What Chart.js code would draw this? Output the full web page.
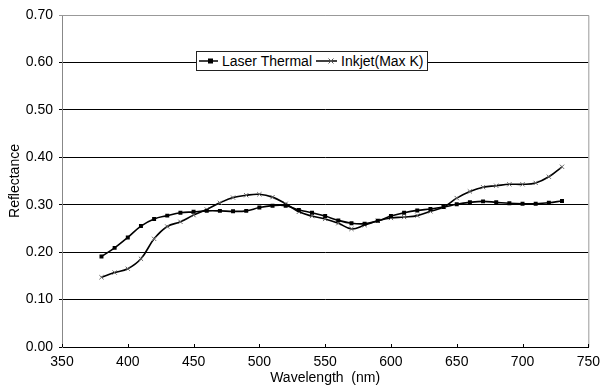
<!DOCTYPE html>
<html>
<head>
<meta charset="utf-8">
<script src="https://cdn.jsdelivr.net/npm/chart.js@4/dist/chart.umd.min.js"></script>
<style>
  html, body { margin:0; padding:0; background:#fff; }
  #wrap { position:relative; width:607px; height:389px; }
  #legend { position:absolute; left:196px; top:51px; width:230px; height:18px; border:1px solid #222; background:#fff;
    font-family:"Liberation Sans", Arial, sans-serif; font-size:14px; color:#000; display:flex; align-items:center; white-space:nowrap; }
  #legend svg { display:block; flex:none; }
  #legend span { line-height:18px; }
</style>
</head>
<body>
<div id="wrap">
  <canvas id="c" width="607" height="389"></canvas>
  <div id="legend">
    <svg width="20" height="18" style="margin-left:2px"><line x1="0" y1="9" x2="19" y2="9" stroke="#000" stroke-width="1.5"/><rect x="9" y="6.5" width="5" height="5" fill="#000"/></svg>
    <span style="margin-left:3px">Laser Thermal</span>
    <svg width="22" height="18" style="margin-left:4px"><line x1="0" y1="9" x2="21" y2="9" stroke="#000" stroke-width="1.5"/><line x1="12.5" y1="6.5" x2="17.5" y2="11.5" stroke="#555" stroke-width="1"/><line x1="12.5" y1="11.5" x2="17.5" y2="6.5" stroke="#555" stroke-width="1"/></svg>
    <span style="margin-left:3px">Inkjet(Max K)</span>
  </div>
</div>
<script>
const wavelengths = [380,390,400,410,420,430,440,450,460,470,480,490,500,510,520,530,540,550,560,570,580,590,600,610,620,630,640,650,660,670,680,690,700,710,720,730];
const laserThermal = [0.191,0.209,0.231,0.255,0.270,0.277,0.283,0.285,0.287,0.287,0.286,0.287,0.294,0.298,0.298,0.289,0.283,0.276,0.267,0.261,0.260,0.266,0.276,0.283,0.288,0.291,0.295,0.301,0.305,0.307,0.305,0.303,0.302,0.302,0.304,0.308];
const inkjetMaxK = [0.147,0.157,0.165,0.186,0.228,0.254,0.264,0.278,0.290,0.304,0.315,0.320,0.322,0.316,0.302,0.285,0.276,0.270,0.261,0.249,0.257,0.266,0.272,0.274,0.277,0.286,0.295,0.314,0.328,0.337,0.340,0.343,0.343,0.346,0.359,0.380];
const xTicks = [350,400,450,500,550,600,650,700,750];
const yTicks = [0,0.1,0.2,0.3,0.4,0.5,0.6,0.7];
const seriesNames = ['Laser Thermal','Inkjet(Max K)'];

const font = { family: '"Liberation Sans", Arial, sans-serif', size: 14 };
const toXY = (arr) => arr.map((v,i) => ({x: wavelengths[i], y: v}));

const framePlugin = {
  id: 'frame',
  afterDraw(chart) {
    const {ctx, chartArea:a} = chart;
    const xs = chart.scales.x;
    ctx.save();
    ctx.strokeStyle = '#999';
    ctx.lineWidth = 1;
    ctx.beginPath();
    ctx.moveTo(a.left, a.top + 0.5);
    ctx.lineTo(a.right + 0.5, a.top + 0.5);
    ctx.lineTo(a.right + 0.5, a.bottom);
    ctx.stroke();
    // inward tick marks on the x axis
    ctx.strokeStyle = '#000';
    ctx.beginPath();
    xTicks.forEach(v => {
      const px = Math.round(xs.getPixelForValue(v)) + 0.5;
      ctx.moveTo(px, a.bottom);
      ctx.lineTo(px, a.bottom - 3);
    });
    ctx.stroke();
    ctx.restore();
  }
};

new Chart(document.getElementById('c'), {
  type: 'line',
  data: {
    datasets: [
      { label: seriesNames[0], data: toXY(laserThermal), borderColor:'#000', backgroundColor:'#000', borderWidth:1.6,
        tension:0.4, pointStyle:'rect', pointRadius:2.8, pointBorderWidth:0, fill:false },
      { label: seriesNames[1], data: toXY(inkjetMaxK), borderColor:'#000', backgroundColor:'#555', pointBorderColor:'#666', borderWidth:1.6,
        tension:0.4, pointStyle:'crossRot', pointRadius:3, pointBorderWidth:1, fill:false }
    ]
  },
  plugins: [framePlugin],
  options: {
    responsive:false, animation:false, devicePixelRatio:1,
    layout: { padding: { left:7, right:15, top:15, bottom:0 } },
    plugins: { legend: { display:false }, tooltip: { enabled:false } },
    scales: {
      x: {
        type:'linear', min:350, max:750,
        afterBuildTicks: (s) => { s.ticks = xTicks.map(v => ({value:v})); },
        ticks: { font, color:'#000', padding:7, maxRotation:0 },
        grid: { drawOnChartArea:false, drawTicks:false, color:'#000' },
        border: { display:true, color:'#000', width:1 },
        title: { display:true, text:'Wavelength  (nm)', font, color:'#000', padding:{top:0,bottom:2} },
        afterFit: (s) => { s.height = 42; }
      },
      y: {
        min:0, max:0.7,
        afterBuildTicks: (s) => { s.ticks = yTicks.map(v => ({value:v})); },
        ticks: { font, color:'#000', padding:6, callback: (v) => Number(v).toFixed(2) },
        grid: { drawTicks:true, tickLength:3, color: (c) => (c.tick && c.tick.value >= 0.69) ? '#999' : '#000', lineWidth:1 },
        border: { display:true, color:'#888', width:1 },
        title: { display:true, text:'Reflectance', font, color:'#000', padding:{top:0,bottom:4} },
        afterFit: (s) => { s.width = 55; }
      }
    }
  }
});
</script>
</body>
</html>
